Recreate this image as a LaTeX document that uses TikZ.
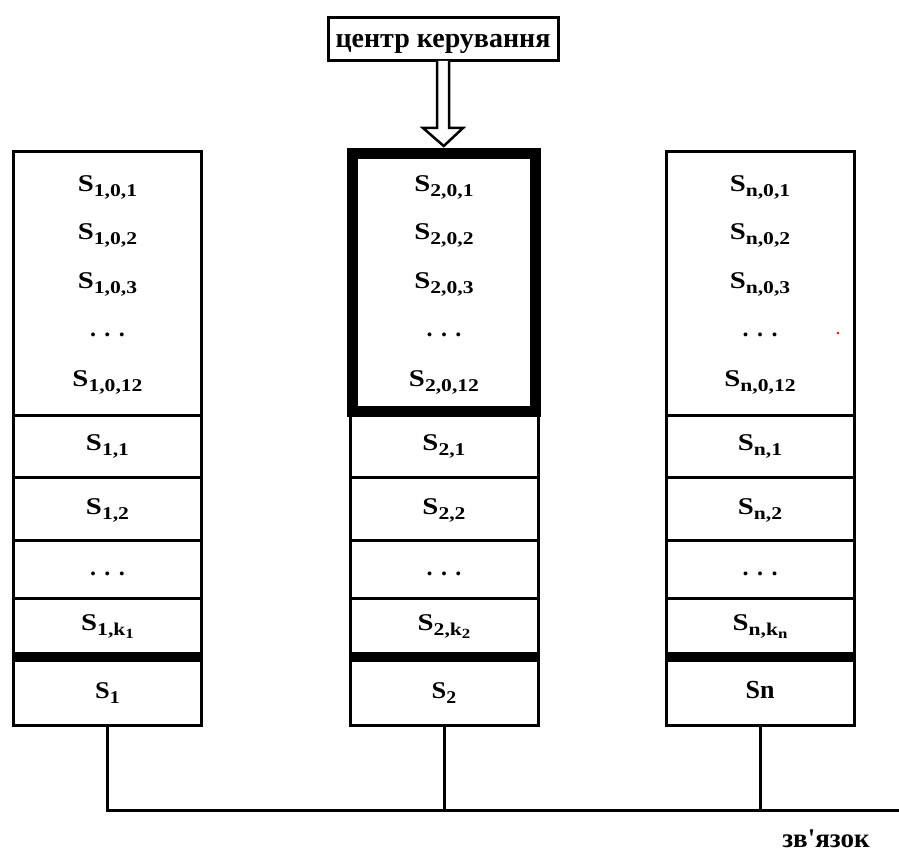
\documentclass[tikz,border=0pt]{standalone}
\usepackage{fontspec}
\setmainfont{Liberation Serif}[BoldFont={Liberation Serif Bold}]
\usepackage{graphicx}
\usetikzlibrary{calc}

% label helpers: wide S with lowered bold subscripts
\newcommand{\subsz}{\fontsize{18}{18}\selectfont}
\newcommand{\subsubsz}{\fontsize{14}{14}\selectfont}
\newcommand{\Sx}[1]{\scalebox{1.2}[1]{S\raisebox{-5pt}{\subsz #1}}}
\newcommand{\Sone}[1]{\scalebox{1.1}[1]{S\raisebox{-5pt}{\subsz #1}}}
\newcommand{\kk}[1]{k\raisebox{-3.5pt}{\subsubsz #1}}
\newcommand{\dotsrow}{.\hspace{8.5pt}.\hspace{8.5pt}.}
\newcommand{\apos}{\XeTeXglyph\XeTeXglyphindex "quotesingle" \relax}

\begin{document}
\begin{tikzpicture}[x=1pt,y=-1pt,
  cell/.style={draw, line width=3pt, minimum width=188pt, inner sep=0pt, outer sep=0pt},
  lbl/.style={anchor=base, inner sep=0pt, font=\bfseries\fontsize{24}{24}\selectfont},
  wire/.style={line width=3pt},
  heavy/.style={line width=10pt}]
\useasboundingbox (0,0) rectangle (899,853);

% control centre
\node[draw, line width=3pt, minimum width=230pt, minimum height=43pt,
      inner sep=0pt, outer sep=0pt, text height=20pt, text depth=3pt,
      font=\bfseries\fontsize{28}{28}\selectfont] (ctrl) at (443,39.5) {центр керування};

% three processor columns
\foreach \cx/\i/\kx/\last in {107.5/1/{\kk{1}}/{\Sone{1}},
                              444/2/{\kk{2}}/{\Sone{2}},
                              760/n/{\kk{n}}/{\fontsize{26}{26}\selectfont Sn}} {
  \node[cell, minimum height=263.5pt] (c\i top) at (\cx,283.25) {};
  \node[cell, minimum height=62pt] (c\i r1) at (\cx,446) {};
  \node[cell, minimum height=63pt] (c\i r2) at (\cx,508.5) {};
  \node[cell, minimum height=58pt] (c\i r3) at (\cx,569) {};
  \node[cell, minimum height=59pt] (c\i r4) at (\cx,627.5) {};
  \node[cell, minimum height=68pt] (c\i r5) at (\cx,691) {};
  \draw[heavy] ($(c\i r4.south west)+(-1.5,0)$) -- ($(c\i r4.south east)+(1.5,0)$);

  \node[lbl] (c\i t1) at (\cx,192) {\Sx{\i,0,1}};
  \node[lbl] (c\i t2) at (\cx,240) {\Sx{\i,0,2}};
  \node[lbl] (c\i t3) at (\cx,288) {\Sx{\i,0,3}};
  \node[lbl] (c\i t4) at (\cx,336) {\dotsrow};
  \node[lbl] (c\i t5) at (\cx,386) {\Sx{\i,0,12}};

  \node[lbl] (c\i s1) at (\cx,450) {\Sx{\i,1}};
  \node[lbl] (c\i s2) at (\cx,514) {\Sx{\i,2}};
  \node[lbl] (c\i s3) at (\cx,575) {\dotsrow};
  \node[lbl] (c\i s4) at (\cx,630) {\Sx{\i,\kx}};
  \node[lbl] (c\i s5) at (\cx,698) {\last};
}

% highlighted block of the second column
\node[draw, line width=11pt, minimum width=182.5pt, minimum height=258pt,
      inner sep=0pt, outer sep=0pt] (hl) at (443.75,282.5) {};

% hollow arrow from the control centre
\draw[line width=2.5pt, fill=white, line join=miter]
  ($(ctrl.south)+(-6,0)$) -- ($(ctrl.south)+(-6,67)$) -- ($(ctrl.south)+(-20,67)$)
  -- ($(hl.north)+(0,-7.5)$)
  -- ($(ctrl.south)+(20,67)$) -- ($(ctrl.south)+(6,67)$) -- ($(ctrl.south)+(6,0)$);

% communication bus
\coordinate (busR) at (899,810);
\draw[wire] (c1r5.south) |- (busR);
\draw[wire] (c2r5.south) -- (c2r5.south |- busR);
\draw[wire] (cnr5.south) -- (cnr5.south |- busR);
\node[anchor=base, inner sep=0pt, font=\bfseries\fontsize{27}{27}\selectfont] (bus) at (826,847) {зв\apos язок};

\fill[red] (838,333) circle[radius=1.3pt];
\end{tikzpicture}
\end{document}
